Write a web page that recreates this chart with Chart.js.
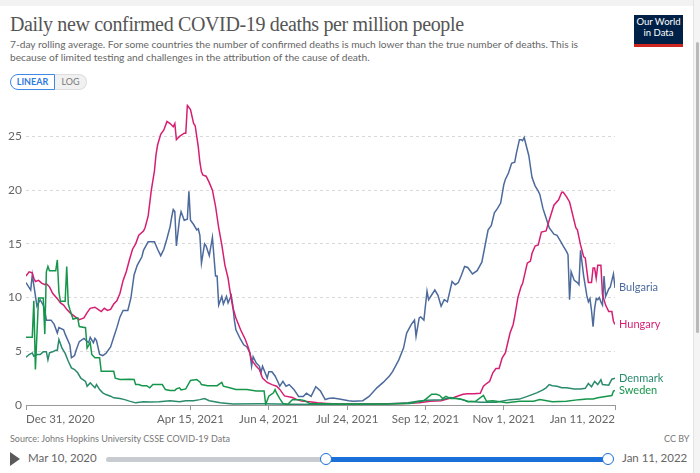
<!DOCTYPE html>
<html>
<head>
<meta charset="utf-8">
<script src="https://cdn.jsdelivr.net/npm/chart.js@4.4.1/dist/chart.umd.min.js"></script>
<style>
  html, body { margin: 0; padding: 0; }
  body { width: 700px; height: 473px; position: relative; overflow: hidden; background: #fff; font-family: Lato, sans-serif; }
  #topbar { position: absolute; left: 0; top: 0; width: 700px; height: 6px; background: #f2f2f2; }
  #title { position: absolute; left: 10px; top: 13px; margin: 0; font-family: "Liberation Serif", serif; font-weight: normal; font-size: 20px; letter-spacing: -0.35px; color: #555; white-space: nowrap; }
  #subtitle { position: absolute; left: 10px; top: 38px; margin: 0; font-size: 10.2px; line-height: 12.5px; color: #666; white-space: nowrap; }
  #toggle { position: absolute; left: 10px; top: 74px; height: 16px; font-size: 9px; font-weight: bold; }
  #toggle span { position: absolute; top: 0; height: 14px; line-height: 14px; text-align: center; }
  #lin { left: 0; width: 43px; border: 1px solid #3d87e6; border-radius: 9px 0 0 9px; color: #2f7ae0; background: #fff; }
  #log { left: 45px; width: 31px; border: 1px solid #ddd; border-left: none; border-radius: 0 9px 9px 0; color: #777; background: #f1f1f1; font-weight: normal; }
  #logo { position: absolute; left: 634px; top: 15px; width: 49px; height: 27px; background: #002147; color: #fff; font-size: 9.5px; line-height: 10.5px; text-align: center; padding-top: 2px; border-bottom: 3px solid #ce261e; }
  #chart { position: absolute; left: 0; top: 93px; }
  #source { position: absolute; left: 10px; top: 433px; font-size: 9px; color: #777; }
  #license { position: absolute; left: 664px; top: 433px; font-size: 9px; color: #777; }
  #play { position: absolute; left: 10px; top: 452px; width: 0; height: 0; border-left: 10px solid #5a5a5a; border-top: 7px solid transparent; border-bottom: 7px solid transparent; }
  .tdate { position: absolute; top: 451px; font-size: 11.5px; color: #666; }
  #track { position: absolute; left: 106px; top: 457px; width: 502px; height: 5px; background: #c8cbd0; border-radius: 3px; }
  #range { position: absolute; left: 326px; top: 457px; width: 282px; height: 5px; background: #1a6fd9; }
  .knob { position: absolute; top: 453px; width: 10px; height: 10px; border: 1.5px solid #1a6fd9; border-radius: 50%; background: #fff; }
  #scroll { position: absolute; left: 693px; top: 0; width: 7px; height: 473px; background: #f4f4f4; border-left: 1px solid #e4e4e4; }
  #thumb { position: absolute; left: 2px; top: 42px; width: 3px; height: 291px; background: #b9b9b9; border-radius: 2px; }
</style>
</head>
<body>
<div id="topbar"></div>
<h1 id="title">Daily new confirmed COVID-19 deaths per million people</h1>
<p id="subtitle">7-day rolling average. For some countries the number of confirmed deaths is much lower than the true number of deaths. This is<br>because of limited testing and challenges in the attribution of the cause of death.</p>
<div id="toggle"><span id="lin">LINEAR</span><span id="log">LOG</span></div>
<div id="logo">Our World<br>in Data</div>
<canvas id="chart" width="700" height="332"></canvas>
<div id="source">Source: Johns Hopkins University CSSE COVID-19 Data</div>
<div id="license">CC BY</div>
<div id="play"></div>
<div class="tdate" style="left:28px">Mar 10, 2020</div>
<div id="track"></div>
<div id="range"></div>
<div class="knob" style="left:320px"></div>
<div class="knob" style="left:602px"></div>
<div class="tdate" style="left:622px">Jan 11, 2022</div>
<div id="scroll"><div id="thumb"></div></div>
<script>
// x values are days since Dec 31, 2020
const tickDays = [0, 105, 155, 205, 255, 305, 376];
const tickLabels = ['Dec 31, 2020', 'Apr 15, 2021', 'Jun 4, 2021', 'Jul 24, 2021', 'Sep 12, 2021', 'Nov 1, 2021', 'Jan 11, 2022'];
const yTicks = [0, 5, 10, 15, 20, 25];

const countries = ['Bulgaria', 'Hungary', 'Denmark', 'Sweden'];
const colors = ['#4c6a9c', '#d61f72', '#2a8a6c', '#16964b'];

const bulgariaDays = [0, 3, 4, 7, 9, 11, 12, 13, 16, 18, 20, 21, 24, 25, 28, 29, 31, 32, 34, 37, 40, 41, 43, 44, 45, 47, 49, 51, 54, 56, 58, 60, 62, 65, 67, 69, 71, 74, 75, 78, 82, 84, 86, 88, 90, 92, 93, 94, 95, 96, 98, 99, 101, 103, 104, 105, 107, 109, 110, 111, 112, 114, 115, 117, 119, 121, 122, 123, 125, 126, 128, 129, 131, 132, 133, 134, 137, 139, 141, 143, 144, 145, 147, 149, 150, 151, 154, 155, 157, 159, 161, 162, 164, 166, 168, 171, 174, 177, 179, 182, 185, 188, 191, 193, 196, 200, 206, 209, 215, 219, 224, 228, 232, 234, 238, 241, 243, 246, 248, 249, 251, 252, 254, 256, 257, 261, 263, 265, 267, 269, 272, 274, 276, 278, 280, 282, 285, 288, 291, 293, 295, 297, 299, 301, 303, 305, 306, 308, 310, 312, 313, 315, 316, 317, 318, 321, 323, 325, 327, 328, 330, 332, 334, 337, 339, 341, 343, 345, 346, 347, 348, 350, 352, 353, 354, 356, 358, 359, 360, 361, 362, 363, 364, 365, 366, 367, 368, 369, 370, 372, 373, 375, 376];
const bulgariaValues = [11.4, 10.7, 12.1, 9.2, 9.8, 9.3, 8.8, 7.9, 7.9, 7.5, 6.7, 7.2, 7.0, 6.6, 5.6, 4.4, 4.6, 5.1, 5.9, 6.2, 5.8, 6.3, 5.8, 6.2, 6.0, 4.7, 4.6, 4.8, 5.4, 6.3, 7.2, 8.2, 8.8, 8.8, 10.0, 12.1, 13.0, 13.8, 14.4, 15.2, 15.2, 14.5, 13.9, 14.5, 15.5, 16.6, 17.5, 18.2, 18.0, 14.8, 17.3, 18.0, 17.2, 17.3, 19.9, 17.2, 16.8, 16.3, 16.4, 15.8, 13.2, 15.0, 14.8, 13.9, 15.6, 12.0, 12.0, 9.3, 10.1, 9.4, 10.1, 9.5, 10.2, 9.3, 7.9, 7.0, 6.1, 5.6, 5.4, 4.85, 3.6, 4.5, 3.9, 3.6, 3.0, 3.6, 2.5, 3.1, 3.1, 2.7, 2.1, 1.75, 2.2, 1.75, 1.9, 1.45, 0.8, 0.8, 1.1, 0.8, 1.7, 1.3, 0.5, 0.6, 0.65, 0.55, 0.4, 0.36, 0.4, 0.8, 1.6, 2.1, 2.7, 3.1, 4.2, 5.3, 6.7, 7.5, 7.9, 6.4, 8.1, 8.2, 7.9, 10.6, 9.8, 10.7, 10.2, 9.2, 9.8, 9.6, 11.5, 11.2, 11.4, 12.1, 12.9, 12.8, 12.2, 12.5, 13.3, 14.8, 16.3, 16.7, 17.9, 18.3, 18.8, 20.5, 21.0, 21.6, 22.5, 22.6, 23.4, 24.7, 24.7, 24.6, 24.9, 23.2, 21.2, 20.4, 19.9, 19.6, 18.3, 17.4, 16.5, 15.9, 15.8, 15.3, 14.8, 14.3, 14.0, 9.8, 12.4, 11.6, 11.4, 11.2, 14.4, 12.0, 10.2, 9.6, 9.9, 8.8, 7.3, 9.0, 9.9, 9.8, 10.0, 9.6, 9.3, 12.0, 10.1, 10.8, 11.0, 12.2, 10.9];

const hungaryDays = [0, 2, 4, 5, 6, 8, 10, 12, 13, 15, 17, 20, 22, 24, 26, 28, 31, 34, 37, 39, 41, 44, 46, 48, 50, 52, 54, 56, 58, 60, 62, 64, 66, 68, 70, 72, 75, 76, 78, 80, 82, 83, 84, 86, 88, 90, 92, 94, 95, 96, 98, 101, 102, 103, 105, 107, 108, 110, 111, 112, 113, 115, 117, 119, 121, 123, 125, 127, 129, 130, 132, 134, 137, 140, 142, 144, 147, 149, 151, 154, 157, 160, 162, 165, 170, 173, 176, 181, 186, 192, 200, 220, 240, 251, 258, 265, 270, 273, 279, 282, 286, 290, 292, 294, 296, 298, 300, 302, 304, 306, 309, 311, 312, 314, 316, 317, 320, 322, 323, 325, 327, 329, 332, 334, 337, 340, 342, 343, 345, 347, 349, 351, 352, 354, 356, 357, 359, 361, 362, 363, 364, 365, 367, 368, 370, 372, 374, 375, 376];
const hungaryValues = [12.0, 12.4, 12.3, 11.8, 11.5, 11.6, 11.35, 11.2, 11.3, 11.0, 10.4, 9.9, 9.5, 9.3, 8.9, 8.6, 8.25, 7.95, 8.1, 8.6, 9.0, 9.1, 8.9, 8.7, 9.0, 8.8, 8.9, 9.4, 9.7, 10.4, 11.6, 12.4, 13.5, 14.5, 15.0, 15.8, 16.2, 16.5, 17.6, 20.0, 21.8, 23.3, 24.2, 25.2, 25.6, 26.4, 26.2, 25.9, 26.2, 24.7, 25.0, 25.3, 25.3, 27.9, 27.5, 26.2, 26.0, 24.0, 22.6, 21.7, 21.4, 21.3, 20.7, 20.0, 18.5, 16.5, 14.9, 13.0, 11.8, 10.8, 9.1, 8.1, 7.0, 6.1, 5.3, 4.2, 3.6, 3.3, 2.5, 2.1, 1.9, 1.75, 1.45, 0.85, 0.7, 0.5, 0.36, 0.3, 0.2, 0.15, 0.1, 0.1, 0.15, 0.2, 0.35, 0.4, 0.6, 0.7, 1.0, 1.05, 1.05, 1.1, 1.75, 2.0, 2.2, 3.0, 3.4, 3.4, 4.4, 4.85, 6.7, 7.5, 8.25, 10.0, 11.0, 11.3, 13.2, 13.4, 14.1, 14.8, 14.9, 16.1, 16.2, 17.2, 18.6, 19.1, 19.8, 19.8, 19.4, 18.9, 17.7, 16.5, 16.3, 14.9, 13.8, 13.7, 11.4, 11.4, 12.75, 12.75, 11.8, 13.0, 13.0, 10.3, 9.3, 8.7, 8.7, 7.8, 7.5];

const denmarkDays = [0, 2, 4, 5, 7, 9, 11, 13, 14, 15, 17, 19, 20, 21, 23, 25, 27, 29, 31, 33, 35, 38, 39, 41, 42, 44, 45, 47, 49, 51, 54, 56, 60, 63, 66, 70, 75, 79, 85, 92, 98, 102, 107, 111, 114, 117, 124, 132, 150, 170, 190, 210, 230, 244, 250, 256, 265, 271, 277, 282, 290, 300, 309, 315, 320, 326, 330, 332, 334, 336, 339, 342, 345, 350, 354, 357, 359, 361, 363, 365, 367, 368, 372, 374, 376];
const denmarkValues = [4.45, 4.7, 4.85, 4.55, 4.7, 4.7, 4.95, 4.95, 4.2, 4.85, 4.95, 5.1, 5.1, 6.1, 5.3, 4.8, 4.07, 3.45, 3.3, 3.0, 2.5, 2.2, 1.75, 2.06, 1.9, 1.6, 1.9, 1.44, 1.13, 0.97, 0.82, 0.67, 0.6, 0.5, 0.36, 0.2, 0.3, 0.28, 0.3, 0.4, 0.3, 0.4, 0.4, 0.5, 0.6, 0.4, 0.2, 0.1, 0.12, 0.08, 0.05, 0.08, 0.1, 0.2, 0.35, 0.45, 0.5, 0.7, 0.55, 0.35, 0.25, 0.25, 0.5, 0.55, 0.8, 1.13, 1.4, 1.6, 1.9, 1.8, 1.75, 1.6, 1.6, 1.5, 1.5, 1.55, 2.0, 1.7, 2.2, 1.9, 2.35, 1.9, 1.85, 2.4, 2.5];

const swedenDays = [0, 4, 5, 6, 8, 11, 12, 13, 14, 15, 19, 20, 21, 22, 25, 26, 27, 28, 30, 33, 34, 38, 39, 41, 42, 44, 47, 48, 56, 57, 60, 66, 69, 70, 72, 74, 77, 79, 81, 87, 89, 92, 95, 96, 98, 99, 102, 105, 109, 111, 112, 116, 122, 125, 126, 130, 134, 141, 147, 152, 153, 155, 158, 159, 160, 162, 164, 167, 170, 175, 178, 181, 200, 230, 245, 250, 254, 259, 262, 264, 266, 268, 271, 275, 279, 282, 287, 292, 294, 298, 307, 315, 324, 328, 336, 345, 353, 358, 362, 365, 370, 374, 375, 376];
const swedenValues = [6.3, 6.3, 9.7, 3.3, 9.96, 9.96, 6.6, 12.4, 12.9, 12.5, 12.5, 13.5, 10.5, 9.65, 9.65, 12.9, 9.4, 8.9, 8.0, 8.1, 7.3, 7.2, 5.3, 5.8, 4.7, 4.4, 4.4, 3.14, 3.14, 2.5, 2.37, 2.4, 2.37, 1.9, 1.9, 1.8, 1.8, 1.6, 1.9, 1.9, 1.44, 1.35, 1.35, 1.5, 1.6, 1.4, 1.5, 2.28, 2.37, 2.15, 1.9, 1.8, 1.8, 2.1, 1.75, 1.6, 1.44, 1.44, 1.3, 1.3, 0.05, 0.82, 1.13, 1.44, 1.1, 0.6, 0.15, 0.05, 0.5, 0.5, 0.4, 0.15, 0.1, 0.1, 0.15, 0.3, 0.4, 1.0, 1.0, 0.9, 0.6, 0.8, 0.6, 0.6, 0.5, 0.3, 0.35, 0.9, 0.35, 0.4, 0.2, 0.35, 0.35, 0.5, 0.3, 0.35, 0.5, 0.55, 0.55, 0.67, 0.8, 0.88, 1.3, 1.35];

const seriesDays = [bulgariaDays, hungaryDays, denmarkDays, swedenDays];
const seriesValues = [bulgariaValues, hungaryValues, denmarkValues, swedenValues];

Chart.defaults.font.family = 'Lato, sans-serif';
Chart.defaults.color = '#666';

// Country names at the end of each line
const endLabels = {
    id: 'endLabels',
    afterDatasetsDraw(chart) {
        const ctx = chart.ctx;
        const yScale = chart.scales.y;
        const items = chart.data.datasets.map(ds => ({
            text: ds.label,
            color: ds.borderColor,
            y: yScale.getPixelForValue(ds.data[ds.data.length - 1].y)
        }));
        items.sort((a, b) => a.y - b.y);
        for (let i = 1; i < items.length; i++) {
            if (items[i].y - items[i - 1].y < 12) items[i].y = items[i - 1].y + 12;
        }
        ctx.save();
        ctx.font = '11px Lato, sans-serif';
        ctx.textBaseline = 'middle';
        items.forEach(item => {
            ctx.fillStyle = item.color;
            ctx.fillText(item.text, chart.chartArea.right + 4, item.y);
        });
        ctx.restore();
    }
};

const datasets = countries.map((name, i) => ({
    label: name,
    data: seriesDays[i].map((d, j) => ({ x: d, y: seriesValues[i][j] })),
    borderColor: colors[i],
    backgroundColor: colors[i],
    borderWidth: 1.5,
    pointRadius: 0,
    tension: 0
})).reverse();

new Chart(document.getElementById('chart'), {
    type: 'line',
    data: { datasets: datasets },
    options: {
        responsive: false,
        animation: false,
        layout: { padding: { top: 0, right: 85, left: 0, bottom: 0 } },
        plugins: { legend: { display: false }, tooltip: { enabled: false } },
        scales: {
            x: {
                type: 'linear',
                min: 0,
                max: 376,
                afterBuildTicks: scale => { scale.ticks = tickDays.map(v => ({ value: v })); },
                afterFit: scale => { scale.height = 20; },
                ticks: {
                    align: 'inner',
                    maxRotation: 0,
                    autoSkip: false,
                    padding: 2,
                    font: { size: 11.5 },
                    color: '#666',
                    callback: value => tickLabels[tickDays.indexOf(value)]
                },
                grid: { drawOnChartArea: false, drawTicks: true, tickLength: 5, color: '#999' },
                border: { display: true, color: '#999' }
            },
            y: {
                min: 0,
                max: 28,
                afterBuildTicks: scale => { scale.ticks = yTicks.map(v => ({ value: v })); },
                afterFit: scale => { scale.width = 26; },
                ticks: { padding: 4, font: { size: 12 }, color: '#666' },
                grid: {
                    drawTicks: false,
                    color: ctx => ctx.tick && ctx.tick.value === 0 ? 'rgba(0,0,0,0)' : '#d9d9d9'
                },
                border: { display: false, dash: [3, 3] }
            }
        }
    },
    plugins: [endLabels]
});
</script>
</body>
</html>
